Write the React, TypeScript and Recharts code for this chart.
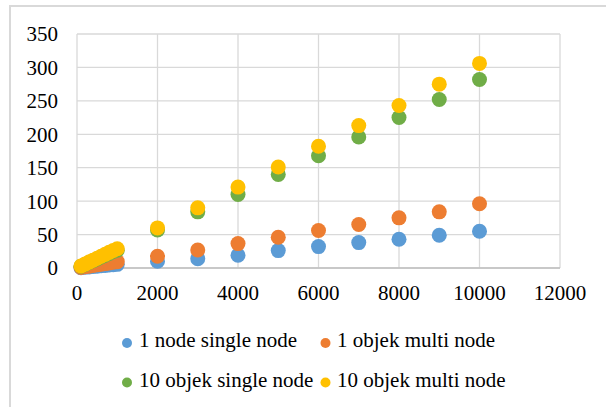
import React from "react";
import { ScatterChart, Scatter, XAxis, YAxis, CartesianGrid, Legend } from "recharts";

const xValues = [100, 200, 300, 400, 500, 600, 700, 800, 900, 1000, 2000, 3000, 4000, 5000, 6000, 7000, 8000, 9000, 10000];
const oneNodeSingle = [0.5, 1.1, 1.6, 2.2, 2.7, 3.3, 3.8, 4.4, 4.9, 5.5, 10, 14, 19, 26, 32, 38, 43, 49, 55];
const oneObjekMulti = [0.9, 1.9, 2.8, 3.8, 4.7, 5.7, 6.6, 7.6, 8.5, 9.5, 17.5, 27, 36.5, 46, 56, 65, 75, 84, 96];
const tenObjekSingle = [2.6, 5.3, 8.2, 10.9, 13.6, 16.4, 19.1, 21.8, 24.6, 26.5, 57, 84, 110, 140, 168, 196, 225, 252, 282];
const tenObjekMulti = [2.9, 5.8, 8.8, 11.7, 14.6, 17.5, 20.4, 23.4, 26.2, 28.8, 60, 90, 121, 151, 182, 213, 243, 275, 306];

const xTicks = [0, 2000, 4000, 6000, 8000, 10000, 12000];
const yTicks = [0, 50, 100, 150, 200, 250, 300, 350];

const seriesNames = ["1 node single node", "1 objek multi node", "10 objek single node", "10 objek multi node"];
const seriesColors = ["#5B9BD5", "#ED7D31", "#70AD47", "#FFC000"];
const seriesValues = [oneNodeSingle, oneObjekMulti, tenObjekSingle, tenObjekMulti];

const toPoints = (vals: number[]) => xValues.map((x, i) => ({ x, y: vals[i] }));

const FONT = "Liberation Serif";
const FS = 21;

const makeDot = (color: string) => (props: any) => {
  const { cx, cy } = props;
  if (cx == null || cy == null) return <g />;
  return <circle cx={cx} cy={cy} r={7.5} fill={color} />;
};

const LegendContent = () => {
  const pos = [
    { mx: 127, my: 18, tx: 139, ty: 22 },
    { mx: 325.5, my: 18, tx: 337, ty: 22 },
    { mx: 127, my: 57.5, tx: 139, ty: 61.7 },
    { mx: 325.5, my: 57.5, tx: 337, ty: 61.7 },
  ];
  return (
    <svg width={606} height={70} style={{ display: "block" }}>
      {seriesNames.map((name, i) => (
        <g key={name}>
          <circle cx={pos[i].mx} cy={pos[i].my} r={5} fill={seriesColors[i]} />
          <text x={pos[i].tx} y={pos[i].ty} fontSize={FS} fill="#000" style={{ fontFamily: FONT }}>
            {name}
          </text>
        </g>
      ))}
    </svg>
  );
};

export default function App() {
  return (
    <div style={{ position: "absolute", left: 0, top: 0, width: 606, height: 407, background: "#fff", overflow: "hidden", fontFamily: FONT }}>
      <div
        style={{
          position: "absolute",
          left: 9,
          top: 5,
          width: 640,
          height: 440,
          border: "2px solid #d9d9d9",
          boxSizing: "border-box",
        }}
      />
      <ScatterChart width={606} height={407} margin={{ top: 34, right: 46, left: 0, bottom: 29 }} style={{ fontFamily: FONT }}>
        <CartesianGrid stroke="#d9d9d9" strokeWidth={1.3} horizontalValues={yTicks} verticalValues={xTicks} />
        <XAxis
          type="number"
          dataKey="x"
          domain={[0, 12000]}
          ticks={xTicks}
          interval={0}
          height={40}
          tickSize={0}
          tickMargin={17}
          axisLine={{ stroke: "#bfbfbf", strokeWidth: 1.5 }}
          tick={{ fontSize: FS, fill: "#000", style: { fontFamily: FONT } }}
        />
        <YAxis
          type="number"
          dataKey="y"
          domain={[0, 350]}
          ticks={yTicks}
          interval={0}
          width={77}
          tickSize={0}
          tickMargin={19}
          axisLine={false}
          tick={{ fontSize: FS, fill: "#000", style: { fontFamily: FONT } }}
        />
        <Legend content={<LegendContent />} wrapperStyle={{ top: 325, left: 0, width: 606, height: 70 }} />
        {seriesValues.map((vals, i) => (
          <Scatter
            key={seriesNames[i]}
            name={seriesNames[i]}
            data={toPoints(vals)}
            fill={seriesColors[i]}
            shape={makeDot(seriesColors[i])}
            isAnimationActive={false}
          />
        ))}
      </ScatterChart>
    </div>
  );
}
